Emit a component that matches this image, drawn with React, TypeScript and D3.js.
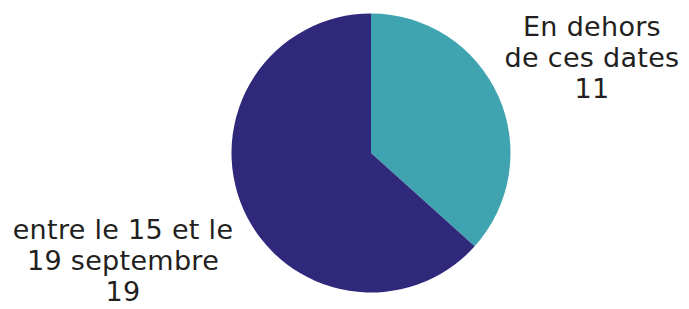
import React, { useRef, useEffect } from 'react';
import * as d3 from 'd3';

const categories = ['En dehors de ces dates', 'entre le 15 et le 19 septembre'];
const values = [11, 19];
const labelLines = [
  ['En dehors', 'de ces dates'],
  ['entre le 15 et le', '19 septembre'],
];
const colors = ['#40a4b0', '#30287a'];

const W = 689;
const H = 309;

const App = () => {
  const svgRef = useRef<SVGSVGElement>(null);

  useEffect(() => {
    if (!svgRef.current) return;
    const svg = d3.select(svgRef.current);
    svg.selectAll('*').remove();

    const cx = 371;
    const cy = 153;
    const radius = 139.5;

    const pie = d3.pie<number>().sort(null).value(d => d);
    const arcs = pie(values);
    const arc = d3.arc<d3.PieArcDatum<number>>().innerRadius(0).outerRadius(radius);

    const g = svg.append('g').attr('transform', `translate(${cx},${cy})`);

    g.selectAll('path')
      .data(arcs)
      .enter()
      .append('path')
      .attr('d', arc)
      .attr('fill', (_, i) => colors[i]);

    // labels: top-right for first slice, bottom-left for second
    const labelPos = [
      { x: cx + 221, y: 36 },
      { x: cx - 248, y: 239 },
    ];
    const lineH = 31;

    categories.forEach((cat, i) => {
      const t = svg.append('text')
        .attr('text-anchor', 'middle')
        .attr('fill', '#231f20')
        .attr('font-family', '"DejaVu Sans", sans-serif')
        .attr('font-size', '27px')
        .attr('letter-spacing', '0.3px')
        .attr('data-category', cat);
      const lines = [...labelLines[i], String(values[i])];
      lines.forEach((line, j) => {
        t.append('tspan')
          .attr('x', labelPos[i].x)
          .attr('y', labelPos[i].y + j * lineH)
          .text(line);
      });
    });
  }, []);

  return (
    <svg
      ref={svgRef}
      width={W}
      height={H}
      style={{ position: 'absolute', left: 0, top: 0, background: '#fff' }}
    />
  );
};

export default App;
